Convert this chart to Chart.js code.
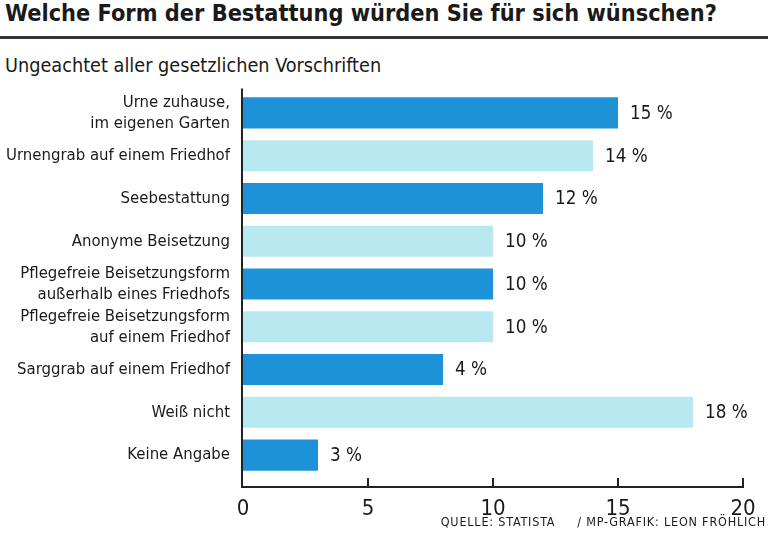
<!DOCTYPE html>
<html>
<head>
<meta charset="utf-8">
<script src="https://cdn.jsdelivr.net/npm/chart.js@4.4.1/dist/chart.umd.min.js"></script>
<style>
  html, body { margin: 0; padding: 0; background: #fff; }
  body { width: 768px; height: 541px; position: relative; overflow: hidden;
         font-family: 'DejaVu Sans Condensed', sans-serif; color: #1a1a1a; }
  #title { position: absolute; left: 5px; top: 1px; font-size: 23.3px; line-height: 23.3px; font-weight: bold; white-space: nowrap; }
  #rule { position: absolute; left: 0; top: 36px; width: 768px; height: 3px; background: #333; }
  #subtitle { position: absolute; left: 5px; top: 56px; font-size: 19.7px; line-height: 19.7px; white-space: nowrap; }
  #source { position: absolute; right: 2px; top: 516px; font-size: 12.5px; line-height: 12.5px; letter-spacing: 0.8px; white-space: pre; }
  #wrap { position: absolute; left: 0; top: 0; width: 768px; height: 541px; }
</style>
</head>
<body>
<div id="title">Welche Form der Bestattung würden Sie für sich wünschen?</div>
<div id="rule"></div>
<div id="subtitle">Ungeachtet aller gesetzlichen Vorschriften</div>
<div id="wrap"><canvas id="chart"></canvas></div>
<div id="source">QUELLE: STATISTA     / MP-GRAFIK: LEON FRÖHLICH</div>
<script>
const categories = [
  ['Urne zuhause,', 'im eigenen Garten'],
  'Urnengrab auf einem Friedhof',
  'Seebestattung',
  'Anonyme Beisetzung',
  ['Pflegefreie Beisetzungsform', 'außerhalb eines Friedhofs'],
  ['Pflegefreie Beisetzungsform', 'auf einem Friedhof'],
  'Sarggrab auf einem Friedhof',
  'Weiß nicht',
  'Keine Angabe'
];
// bar lengths as drawn in the picture
const values = [15, 14, 12, 10, 10, 10, 8, 18, 3];
// value labels as printed next to the bars
const valueLabels = ['15 %', '14 %', '12 %', '10 %', '10 %', '10 %', '4 %', '18 %', '3 %'];
const xTicks = [0, 5, 10, 15, 20];

const dark = 'rgb(29,146,214)';
const light = 'rgb(184,232,240)';
const fontFamily = "'DejaVu Sans Condensed', sans-serif";

const axisPlugin = {
  id: 'axisLines',
  afterDatasetsDraw(chart) {
    const { ctx, chartArea, scales } = chart;
    const x = scales.x;
    const axisY = chartArea.bottom + 10.5;
    const x0 = x.getPixelForValue(0) - 1;
    ctx.save();
    ctx.strokeStyle = '#222';
    ctx.lineWidth = 2;
    ctx.beginPath();
    ctx.moveTo(x0, chartArea.top - 3);
    ctx.lineTo(x0, axisY);
    ctx.lineTo(x.getPixelForValue(20) + 1, axisY);
    ctx.stroke();
    xTicks.slice(1).forEach(v => {
      const px = x.getPixelForValue(v);
      ctx.beginPath();
      ctx.moveTo(px, axisY);
      ctx.lineTo(px, axisY - 9);
      ctx.stroke();
    });
    // value labels
    ctx.fillStyle = '#1a1a1a';
    ctx.font = '18.7px ' + fontFamily;
    ctx.textBaseline = 'middle';
    ctx.textAlign = 'left';
    chart.getDatasetMeta(0).data.forEach((bar, i) => {
      ctx.fillText(valueLabels[i], bar.x + 12, bar.y + 1);
    });
    ctx.restore();
  }
};

new Chart(document.getElementById('chart'), {
  type: 'bar',
  data: {
    labels: categories,
    datasets: [{
      data: values,
      backgroundColor: values.map((v, i) => i % 2 === 0 ? dark : light),
      borderWidth: 0,
      barPercentage: 0.73,
      categoryPercentage: 1.0
    }]
  },
  options: {
    indexAxis: 'y',
    responsive: true,
    maintainAspectRatio: false,
    animation: false,
    layout: { padding: { top: 91.6, right: 25, left: 0, bottom: 0 } },
    plugins: { legend: { display: false }, tooltip: { enabled: false } },
    scales: {
      x: {
        min: 0, max: 20,
        afterFit(scale) {
          scale.height = 64.6;
          scale.paddingLeft = 0;
          scale.paddingRight = 0;
        },
        afterBuildTicks(scale) { scale.ticks = xTicks.map(v => ({ value: v })); },
        grid: { display: false, drawTicks: false },
        border: { display: false },
        ticks: { color: '#1a1a1a', padding: 20, maxRotation: 0, font: { family: fontFamily, size: 22 } }
      },
      y: {
        afterFit(scale) {
          scale.width = 243;
          scale.paddingTop = 0;
          scale.paddingBottom = 0;
        },
        grid: { display: false, drawTicks: false },
        border: { display: false },
        ticks: { color: '#1a1a1a', padding: 13, autoSkip: false, font: { family: fontFamily, size: 16.6, lineHeight: 1.27 } }
      }
    }
  },
  plugins: [axisPlugin]
});
</script>
</body>
</html>
